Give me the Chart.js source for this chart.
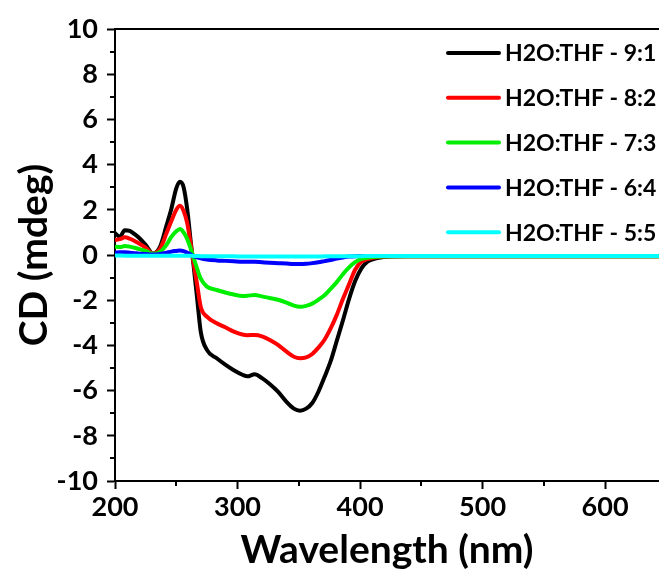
<!DOCTYPE html>
<html><head><meta charset="utf-8">
<script src="https://cdn.jsdelivr.net/npm/chart.js@4.4.0/dist/chart.umd.min.js"></script>
<style>html,body{margin:0;padding:0;background:#fff;}#wrap{width:659px;height:572px;}</style>
</head><body><div id="wrap"><canvas id="c" width="659" height="572"></canvas></div>
<script>
const wavelengths = [200,204,208,212,216,220,225,231,237,242,246,250,253,256,259,262,264,267,270,275,283,290,297,304,308,314,320,326,333,340,346,351,356,361,366,371,376,381,386,391,396,401,406,411,418,425,440,470,500,550,600,644];
const cd91 = [0.97,0.81,1.1,1.07,0.92,0.74,0.45,0.06,0.4,1.3,2.05,2.95,3.24,3.0,2.0,0.5,-0.4,-1.9,-3.4,-4.2,-4.57,-4.85,-5.1,-5.3,-5.37,-5.28,-5.45,-5.7,-6.05,-6.5,-6.8,-6.89,-6.8,-6.55,-6.05,-5.4,-4.7,-3.8,-2.9,-1.95,-1.15,-0.6,-0.3,-0.18,-0.1,-0.07,-0.05,-0.05,-0.05,-0.05,-0.05,-0.05];
const cd82 = [0.66,0.7,0.78,0.72,0.62,0.5,0.33,0.06,0.3,0.96,1.5,2.0,2.18,1.95,1.4,0.4,-0.3,-1.3,-2.3,-2.73,-3.02,-3.2,-3.39,-3.52,-3.55,-3.54,-3.6,-3.75,-3.98,-4.28,-4.5,-4.57,-4.53,-4.38,-4.1,-3.75,-3.25,-2.65,-1.95,-1.3,-0.65,-0.3,-0.18,-0.12,-0.08,-0.06,-0.05,-0.05,-0.05,-0.05,-0.05,-0.05];
const cd73 = [0.37,0.35,0.4,0.37,0.32,0.26,0.18,0.05,0.15,0.45,0.8,1.05,1.15,1.0,0.7,0.25,-0.1,-0.6,-1.05,-1.4,-1.55,-1.66,-1.75,-1.81,-1.8,-1.77,-1.83,-1.9,-1.98,-2.11,-2.24,-2.29,-2.25,-2.15,-1.98,-1.78,-1.5,-1.2,-0.85,-0.55,-0.32,-0.17,-0.12,-0.09,-0.07,-0.06,-0.05,-0.05,-0.05,-0.05,-0.05,-0.05];
const cd64 = [0.1,0.12,0.12,0.1,0.08,0.06,0.04,0.02,0.05,0.1,0.15,0.18,0.2,0.17,0.1,0.02,-0.05,-0.1,-0.15,-0.2,-0.24,-0.26,-0.28,-0.3,-0.3,-0.3,-0.32,-0.34,-0.36,-0.38,-0.4,-0.4,-0.39,-0.36,-0.32,-0.27,-0.22,-0.16,-0.11,-0.07,-0.05,-0.04,-0.04,-0.04,-0.04,-0.04,-0.04,-0.04,-0.04,-0.04,-0.04,-0.04];
const cd55 = [-0.02,-0.02,-0.03,-0.03,-0.03,-0.03,-0.03,-0.03,-0.03,-0.03,-0.03,-0.03,-0.03,-0.03,-0.03,-0.03,-0.04,-0.04,-0.05,-0.05,-0.06,-0.06,-0.06,-0.07,-0.07,-0.07,-0.07,-0.07,-0.07,-0.07,-0.07,-0.07,-0.07,-0.07,-0.07,-0.06,-0.06,-0.06,-0.05,-0.05,-0.05,-0.05,-0.04,-0.04,-0.04,-0.04,-0.04,-0.04,-0.04,-0.04,-0.04,-0.04];
const seriesLabels = ['H2O:THF - 9:1','H2O:THF - 8:2','H2O:THF - 7:3','H2O:THF - 6:4','H2O:THF - 5:5'];
const seriesColors = ['#000000','#ff0000','#00ee00','#0000ff','#00ffff'];
const seriesValues = [cd91, cd82, cd73, cd64, cd55];
const xMajorTicks = [200,300,400,500,600];
const xMinorTicks = [250,350,450,550,650];
const yMajorTicks = [-10,-8,-6,-4,-2,0,2,4,6,8,10];
const yMinorTicks = [-9,-7,-5,-3,-1,1,3,5,7,9];
const X_MIN = 200, X_MAX = 644, Y_MIN = -10, Y_MAX = 10;

const FONT = 'Lato';

const extras = {
  id: 'extras',
  afterDraw(chart) {
    const ctx = chart.ctx, a = chart.chartArea;
    const xs = chart.scales.x, ys = chart.scales.y;
    ctx.save();
    ctx.strokeStyle = '#000';
    ctx.lineWidth = 2;
    // top frame
    ctx.beginPath();
    ctx.moveTo(a.left - 1, a.top);
    ctx.lineTo(chart.width, a.top);
    ctx.stroke();
    // minor ticks
    ctx.beginPath();
    yMinorTicks.forEach(v => {
      const p = Math.round(ys.getPixelForValue(v));
      ctx.moveTo(a.left - 5, p); ctx.lineTo(a.left, p);
    });
    xMinorTicks.forEach(v => {
      if (v > X_MAX) return;
      const p = Math.round(xs.getPixelForValue(v));
      ctx.moveTo(p, a.bottom); ctx.lineTo(p, a.bottom + 5);
    });
    ctx.stroke();
    // legend
    ctx.font = 'bold 23px ' + FONT;
    ctx.textBaseline = 'middle';
    ctx.textAlign = 'left';
    chart.data.datasets.forEach((ds, i) => {
      const y = 53 + i * 44.8;
      ctx.strokeStyle = ds.borderColor;
      ctx.lineWidth = 4;
      ctx.lineCap = 'round';
      ctx.beginPath(); ctx.moveTo(448, y); ctx.lineTo(499, y); ctx.stroke();
      ctx.fillStyle = '#000';
      ctx.fillText(ds.label, 505, y + 1);
    });
    ctx.restore();
  }
};

new Chart(document.getElementById('c'), {
  type: 'line',
  data: {
    datasets: seriesValues.map((vals, i) => ({
      label: seriesLabels[i],
      data: wavelengths.map((w, j) => ({x: w, y: vals[j]})),
      borderColor: seriesColors[i],
      backgroundColor: seriesColors[i],
      borderWidth: 4,
      pointRadius: 0,
      cubicInterpolationMode: 'monotone',
      order: 5 - i
    }))
  },
  options: {
    responsive: false,
    animation: false,
    devicePixelRatio: 1,
    layout: {padding: {left: 0, right: 0, top: 29, bottom: 0}},
    plugins: {legend: {display: false}, tooltip: {enabled: false}},
    scales: {
      x: {
        type: 'linear', min: X_MIN, max: X_MAX,
        afterBuildTicks: s => { s.ticks = xMajorTicks.map(v => ({value: v})); },
        afterFit: s => { s.height = 91; },
        border: {display: true, width: 2, color: '#000'},
        grid: {drawOnChartArea: false, drawTicks: true, tickLength: 8, tickWidth: 2, tickColor: '#000'},
        ticks: {color: '#000', font: {family: FONT, size: 27, weight: 'bold'}, padding: 2, maxRotation: 0, autoSkip: false},
        title: {display: true, text: 'Wavelength (nm)', color: '#000', font: {family: FONT, size: 39, weight: 'bold', lineHeight: 1}, padding: {top: 0, bottom: 2}}
      },
      y: {
        type: 'linear', min: Y_MIN, max: Y_MAX,
        afterBuildTicks: s => { s.ticks = yMajorTicks.map(v => ({value: v})); },
        afterFit: s => { s.width = 115; },
        border: {display: true, width: 2, color: '#000'},
        grid: {drawOnChartArea: false, drawTicks: true, tickLength: 8, tickWidth: 2, tickColor: '#000'},
        ticks: {color: '#000', font: {family: FONT, size: 27, weight: 'bold'}, padding: 9, autoSkip: false},
        title: {display: true, text: 'CD (mdeg)', color: '#000', font: {family: FONT, size: 39, weight: 'bold', lineHeight: 1}, padding: {top: 15, bottom: 0}}
      }
    }
  },
  plugins: [extras]
});
</script></body></html>
